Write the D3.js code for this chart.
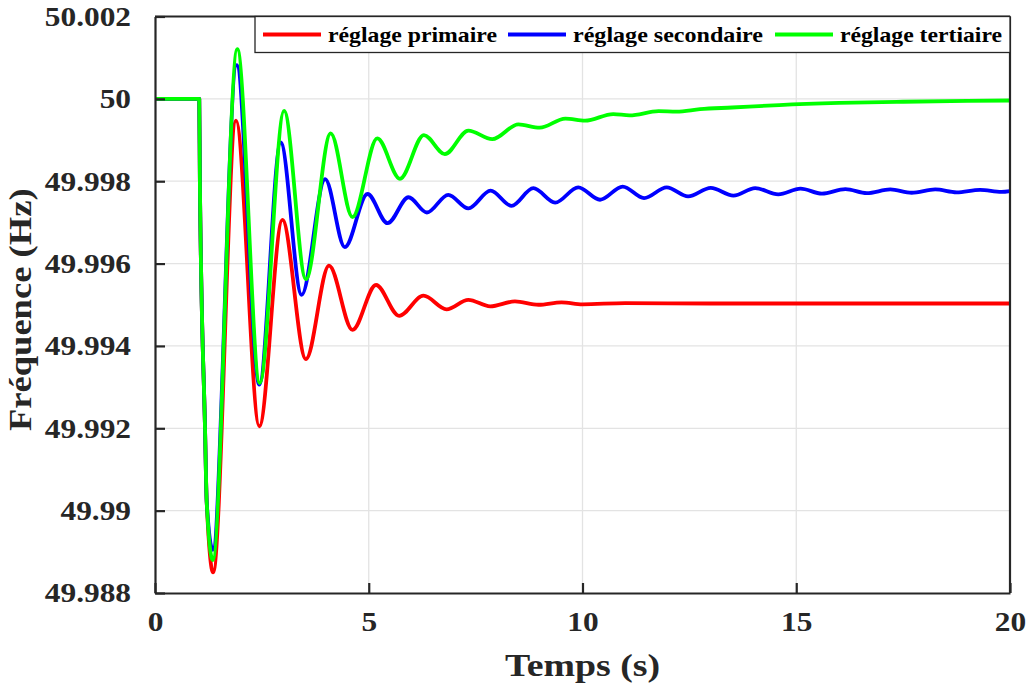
<!DOCTYPE html>
<html>
<head>
<meta charset="utf-8">
<!-- Load d3 -->
<script src="https://d3js.org/d3.v7.min.js"></script>
<title>Fréquence</title>
<style type="text/css">
  body { margin: 0; background: #ffffff; }
  text { font-family: "Liberation Serif", "DejaVu Serif", serif; font-weight: bold; fill: #262626; }
</style>
</head>
<body>
<div id="myvisualization"></div>
<script>

// series names and tick labels
var seriesNames = ["réglage primaire", "réglage secondaire", "réglage tertiaire"];
var xTicks = [0, 5, 10, 15, 20];
var yTicks = [49.988, 49.99, 49.992, 49.994, 49.996, 49.998, 50, 50.002];

// réglage primaire
var tPrim = [0, 1.035, 1.05, 1.17, 1.21, 1.36, 1.895, 2.44, 2.98, 3.53, 4.07, 4.62, 5.17, 5.71, 6.28, 6.82, 7.33, 7.84, 8.42, 8.97, 9.51, 10.0, 11, 13, 20];
var fPrim = [50, 50, 49.998, 49.992, 49.9902, 49.9885, 49.99947, 49.99205, 49.99706, 49.99368, 49.99595, 49.99439, 49.99548, 49.99473, 49.99522, 49.99489, 49.99512, 49.99496, 49.99508, 49.995, 49.99506, 49.99501, 49.99504, 49.99503, 49.99503];

// réglage secondaire
var tSec = [0, 1.035, 1.05, 1.17, 1.21, 1.35, 1.91, 2.44, 2.94, 3.43, 3.98, 4.44, 4.97, 5.44, 5.93, 6.36, 6.86, 7.33, 7.85, 8.34, 8.85, 9.36, 9.90, 10.41, 10.94, 11.44, 11.97, 12.47, 13.0, 13.53, 14.04, 14.58, 15.1, 15.6, 16.15, 16.65, 17.2, 17.7, 18.25, 18.75, 19.3, 19.8, 20];
var fSec = [50, 50, 49.998, 49.992, 49.9902, 49.98905, 50.00082, 49.99306, 49.99894, 49.99524, 49.99805, 49.9964, 49.99769, 49.99698, 49.99761, 49.99724, 49.99767, 49.99734, 49.99777, 49.9974, 49.99783, 49.99748, 49.99785, 49.99755, 49.99787, 49.99759, 49.99785, 49.99763, 49.99784, 49.99765, 49.99783, 49.99768, 49.99782, 49.9977, 49.99781, 49.99771, 49.9978, 49.99772, 49.9978, 49.99773, 49.99779, 49.99774, 49.99776];

// réglage tertiaire
var tTer = [0, 1.035, 1.05, 1.17, 1.21, 1.35, 1.925, 2.45, 3.02, 3.53, 4.11, 4.62, 5.2, 5.73, 6.29, 6.78, 7.33, 7.89, 8.5, 9.0, 9.6, 10.06, 10.72, 11.1, 11.78, 12.2, 12.75, 13.5, 14.6, 16, 17.5, 19, 20];
var fTer = [50, 50, 49.998, 49.992, 49.9902, 49.9888, 50.00121, 49.9931, 49.99971, 49.99562, 49.99916, 49.99713, 49.99904, 49.99806, 49.99912, 49.99866, 49.99923, 49.99902, 49.99938, 49.9993, 49.99952, 49.99947, 49.99963, 49.9996, 49.9997, 49.99969, 49.99975, 49.99979, 49.99985, 49.9999, 49.99993, 49.99995, 49.99996];

var colors = ["#ff0000", "#0000ff", "#00ff00"];

// set the dimensions and margins of the graph
var margin = {top: 16.5, right: 21, bottom: 93, left: 155},
    width = 1031 - margin.left - margin.right,
    height = 686 - margin.top - margin.bottom;

var svgRoot = d3.select("#myvisualization").append("svg")
  .attr("width", 1031)
  .attr("height", 686);

var svg = svgRoot.append("g")
  .attr("transform", "translate(" + margin.left + "," + margin.top + ")");

var x = d3.scaleLinear().domain([0, 20]).range([0, width]);
var y = d3.scaleLinear().domain([49.988, 50.002]).range([height, 0]);

// grid
svg.append("g").selectAll("line")
  .data(xTicks.slice(1, -1))
  .enter().append("line")
  .attr("x1", function(d) { return x(d); })
  .attr("x2", function(d) { return x(d); })
  .attr("y1", 0).attr("y2", height)
  .style("stroke", "#e3e3e3").style("stroke-width", 1.3);

svg.append("g").selectAll("line")
  .data(yTicks.slice(1, -1))
  .enter().append("line")
  .attr("x1", 0).attr("x2", width)
  .attr("y1", function(d) { return y(d); })
  .attr("y2", function(d) { return y(d); })
  .style("stroke", "#e3e3e3").style("stroke-width", 1.3);

// curves
var series = [[tPrim, fPrim], [tSec, fSec], [tTer, fTer]];
var line = d3.line()
  .x(function(d) { return x(d[0]); })
  .y(function(d) { return y(d[1]); })
  .curve(d3.curveMonotoneX);

series.forEach(function(s, i) {
  var pts = s[0].map(function(t, k) { return [t, s[1][k]]; });
  svg.append("path")
    .datum(pts)
    .attr("d", line)
    .style("fill", "none")
    .style("stroke", colors[i])
    .style("stroke-width", 3.8)
    .style("stroke-linejoin", "round");
});

// axes (ticks inside)
var xAxis = svg.append("g")
  .attr("transform", "translate(0," + height + ")")
  .call(d3.axisBottom(x).tickValues(xTicks).tickSizeInner(-10).tickSizeOuter(0).tickPadding(18).tickFormat(d3.format("d")));

var yAxis = svg.append("g")
  .call(d3.axisLeft(y).tickValues(yTicks).tickSizeInner(-10).tickSizeOuter(0).tickPadding(24)
    .tickFormat(function(d) { return String(+d.toFixed(3)); }));

[xAxis, yAxis].forEach(function(a) {
  a.select(".domain").style("stroke", "#262626").style("stroke-width", 2.2);
  a.selectAll(".tick line").style("stroke", "#262626").style("stroke-width", 2.2);
  a.selectAll(".tick text").style("font-family", "Liberation Serif").style("font-size", "28px")
    .style("font-weight", "bold").style("fill", "#262626");
});

// box top and right
svg.append("line").attr("x1", 0).attr("x2", width).attr("y1", 0).attr("y2", 0)
  .style("stroke", "#262626").style("stroke-width", 2.2);
svg.append("line").attr("x1", width).attr("x2", width).attr("y1", 0).attr("y2", height)
  .style("stroke", "#262626").style("stroke-width", 2.2);

// axis titles
var xTitle = svg.append("text")
  .attr("x", width / 2)
  .attr("y", height + 83)
  .style("text-anchor", "middle")
  .style("font-size", "31px")
  .text("Temps (s)");

var yTitle = svg.append("text")
  .attr("transform", "rotate(-90)")
  .attr("x", -height / 2 - 5)
  .attr("y", -124)
  .style("text-anchor", "middle")
  .style("font-size", "31px")
  .text("Fréquence (Hz)");

// legend
var legend = svgRoot.append("g");
legend.append("rect")
  .attr("x", 255).attr("y", 16.5).attr("width", 755).attr("height", 36)
  .style("fill", "#ffffff").style("stroke", "#262626").style("stroke-width", 1.3);

var legX = [263, 508, 775];
var legW = [169, 190, 162];
seriesNames.forEach(function(n, i) {
  legend.append("line")
    .attr("x1", legX[i]).attr("x2", legX[i] + 58)
    .attr("y1", 34.5).attr("y2", 34.5)
    .style("stroke", colors[i]).style("stroke-width", 3.8);
  legend.append("text")
    .attr("x", legX[i] + 65)
    .attr("y", 42)
    .style("font-size", "21px")
    .style("fill", "#000000")
    .attr("textLength", legW[i])
    .attr("lengthAdjust", "spacingAndGlyphs")
    .text(n);
});

// the original font is wider than Liberation Serif: stretch the texts a bit
function widen(sel, k) {
  sel.each(function() {
    var w = this.getComputedTextLength();
    d3.select(this).attr("textLength", w * k).attr("lengthAdjust", "spacingAndGlyphs");
  });
}
widen(yAxis.selectAll(".tick text"), 1.12);
widen(xAxis.selectAll(".tick text"), 1.12);
widen(xTitle, 1.22);
widen(yTitle, 1.18);

</script>
</body>
</html>
